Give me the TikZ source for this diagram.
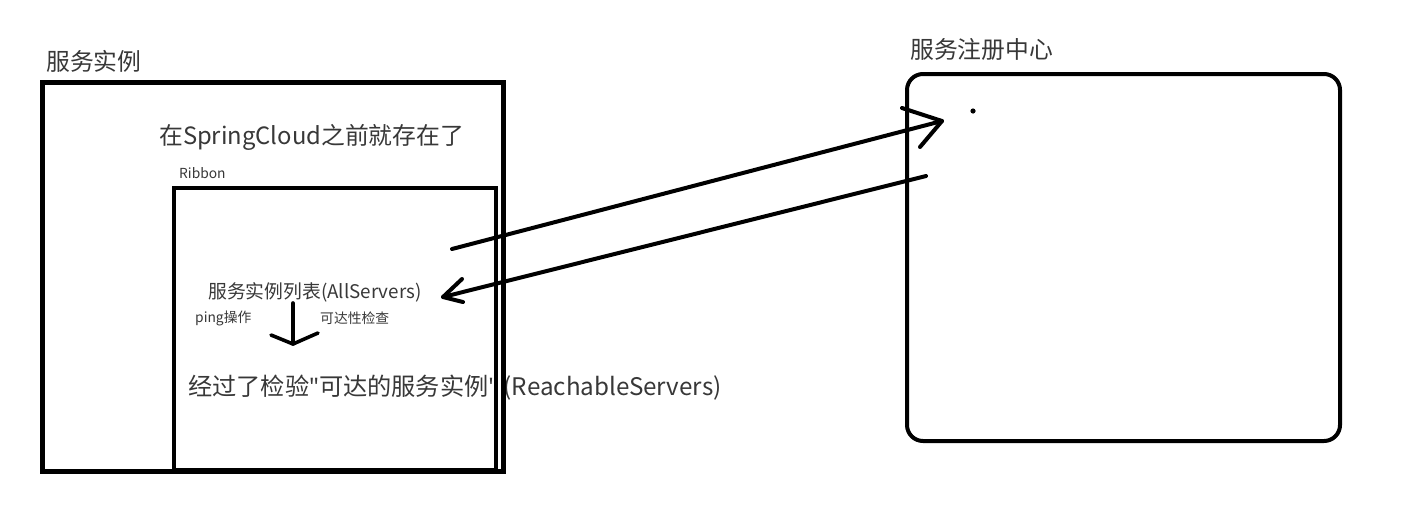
\documentclass[tikz,border=0pt]{standalone}
\usepackage{fontspec}
\setmainfont{Noto Sans CJK SC}
\newfontfamily\latinf{Noto Sans}
\newcommand{\sq}{{\latinf\char"22}}
\begin{document}
\begin{tikzpicture}[x=1pt,y=-1pt,
  txt/.style={anchor=west,inner sep=0pt,text=black!78},
  big/.style={txt,font=\fontsize{23.8}{28}\selectfont},
  mid/.style={txt,font=\fontsize{18.8}{22}\selectfont},
  small/.style={txt,font=\fontsize{13.8}{16}\selectfont},
  hand/.style={line width=4pt,line cap=round,line join=round},
  boxline/.style={line width=5pt},
]
\useasboundingbox[fill=white] (0,0) rectangle (1405,523);
% labels
\node[big] (svc) at (46,61) {服务实例};
\node[big] (pre) at (159,137) {在SpringCloud之前就存在了};
\node[small] (rib) at (179,173) {Ribbon};
\node[mid] (all) at (208,292) {服务实例列表(AllServers)};
\node[small] (ping) at (195,318) {ping操作};
\node[small] (chk) at (320,318) {可达性检查};
\node[txt,font=\fontsize{24.2}{28}\selectfont] (reach) at (188,388) {经过了检验\sq 可达的服务实例\sq{} (ReachableServers)};
\node[big] (reg) at (910,49) {服务注册中心};
% boxes
\draw[boxline] (42,82) rectangle (503,471);
\draw[line width=4.2pt] (174,188) rectangle (496,470);
\draw[line width=4pt,rounded corners=16pt] (907,74) rectangle (1340,441);
% arrow 1 (to registry)
\coordinate (a1s) at (452,249);
\coordinate (a1t) at (942,121);
\coordinate (a1u) at (902,108);
\coordinate (a1l) at (920,147);
\draw[hand] (a1s) -- (a1t);
\draw[hand] (a1u) -- (a1t) -- (a1l);
% arrow 2 (back)
\coordinate (a2s) at (926,176);
\coordinate (a2t) at (443,297);
\coordinate (a2u) at (462,279);
\coordinate (a2l) at (463,302);
\draw[hand] (a2s) -- (a2t);
\draw[hand] (a2u) -- (a2t) -- (a2l);
% down arrow
\coordinate (ds) at (293,303);
\coordinate (dt) at (293,344);
\coordinate (dl) at (271,335);
\coordinate (dr) at (318,333);
\draw[hand,line width=3.6pt] (ds) -- (dt);
\draw[hand,line width=3.6pt] (dl) -- (dt) -- (dr);
% dot
\fill (973,111) circle (2.6pt);
\end{tikzpicture}
\end{document}
